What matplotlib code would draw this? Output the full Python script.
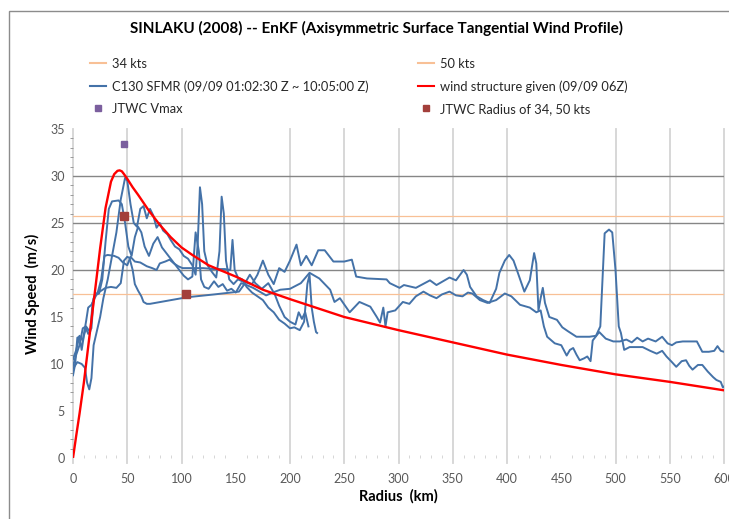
import numpy as np
import matplotlib.pyplot as plt
from matplotlib.lines import Line2D
from matplotlib.patches import Rectangle

plt.rcParams['font.family'] = ['Lato', 'DejaVu Sans']

# wind structure given (09/09 06Z)
wind_r = [0, 3, 6, 10, 15, 20, 25, 30, 35, 38, 41, 43, 45, 47, 50, 55, 60, 70, 80, 90, 100, 110,
          125, 150, 175, 200, 250, 300, 350, 400, 450, 500, 550, 600]
wind_v = [0, 2.4, 4.7, 8.0, 12.8, 17.5, 22.3, 26.6, 29.4, 30.2, 30.55, 30.6, 30.5, 30.2, 29.7, 28.8, 28, 26.3,
          24.8, 23.5, 22.4, 21.6, 20.5, 19.3, 17.9, 16.9, 15.0, 13.6, 12.3, 11.0, 9.9, 8.9, 8.1, 7.2]

# C130 SFMR passes (09/09 01:02:30 Z ~ 10:05:00 Z)
leg1_r = [0, 4, 8, 11, 13, 15, 17, 19, 22, 25, 28, 32, 36, 40, 44, 48, 50, 53, 56, 59, 62, 65, 68, 71, 74, 77,
          80, 83, 87, 90, 94, 98, 102, 106, 110, 113, 115, 117, 119, 121, 124, 128, 132, 135, 137, 139, 141,
          144, 148, 152, 158, 165, 170, 175, 180, 185, 190, 195, 200, 206, 210, 215, 220, 226, 232, 240, 250,
          257, 261, 271, 289, 292, 301, 305, 316, 329, 335, 341, 347, 353, 360, 363, 366, 372, 378, 384, 390,
          393, 398, 402, 406, 410, 416, 421, 425, 427, 429, 431, 433, 435, 439, 446, 451, 456, 464, 476, 482,
          486, 488, 490, 494, 497, 500, 503, 505, 508, 513, 519, 525, 532, 538, 543, 547, 552, 556, 561, 565,
          568, 571, 576, 580, 585, 590, 593, 597, 599, 600]
leg1_v = [9.5, 10.2, 10, 9.6, 8, 7.3, 8.5, 12, 13.5, 15, 17, 19, 21.5, 24, 27.5, 29.8, 29.5, 27, 25, 24.6,
          26.5, 26.8, 25.5, 26.5, 25.8, 24.5, 25, 24.2, 23.8, 23.2, 22.5, 22.2, 21.5, 21.2, 20.5, 19.5, 23,
          28.8, 27, 22, 20.5, 19.8, 19.2, 22, 27.8, 26, 21, 19, 18.5, 19, 18.7, 18.5, 19.5, 21, 19.5, 18.5,
          20.2, 19.8, 21, 22.7, 20.5, 21.5, 20.5, 22.1, 22.1, 20.9, 20.9, 21.1, 19.3, 19.1, 19.0, 18.6, 18.1,
          18.4, 18.1, 18.9, 18.4, 18.8, 19.2, 18.9, 20.0, 19.5, 18.2, 17.2, 16.8, 16.5, 18, 19.7, 21, 21.6,
          21, 19.7, 17.7, 18.9, 21.8, 20.7, 15.7, 17, 18.1, 16.5, 15.0, 14.7, 13.9, 13.5, 12.9, 12.9, 13.0,
          14, 19, 23.9, 24.3, 24, 20, 14, 13.3, 11.5, 11.8, 11.8, 11.8, 11.4, 11.1, 11.4, 10.8, 10.2, 9.7,
          10.3, 10.4, 9.8, 9.4, 9.9, 9.9, 9.2, 8.6, 8.3, 8.1, 7.5, 7.6]

leg2_r = [0, 2, 4, 6, 8, 10, 12, 14, 16, 18, 20, 24, 27, 30, 33, 36, 42, 45, 48, 51, 54, 57, 60, 63, 66, 70,
          74, 78, 82, 86, 90, 94, 98, 102, 106, 110, 113, 116, 118, 121, 125, 130, 134, 138, 142, 146, 150,
          155, 160, 166, 172, 178, 184, 191, 200, 210, 218, 227, 237, 241, 246, 255, 264, 274, 280, 283, 286,
          288, 290, 297, 304, 310, 316, 323, 329, 335, 340, 347, 353, 359, 364, 368, 375, 382, 390, 398, 404,
          412, 421, 427, 431, 434, 437, 444, 450, 455, 458, 461, 464, 467, 471, 474, 477, 479, 485, 491, 498,
          504, 510, 515, 520, 525, 530, 537, 543, 548, 552, 556, 562, 570, 575, 580, 586, 591, 594, 597, 600]
leg2_v = [8.8, 10, 12.8, 12.9, 11.5, 13.0, 13.8, 13.2, 13.5, 16.5, 17.3, 17.5, 19, 23, 26.5, 27.3, 27.4,
          27.0, 25, 22.5, 21.5, 23.5, 24.6, 24, 22.5, 21.5, 22.8, 23.5, 22.4, 21.8, 21.2, 20.6, 20.0, 19.4,
          19.0, 19.3, 24.0, 22.0, 19.0, 18.2, 18.0, 18.8, 18.2, 18.5, 17.8, 18.0, 17.6, 18.6, 18.4, 18.1,
          17.7, 17.3, 17.6, 17.9, 18.0, 18.6, 19.7, 19.1, 17.9, 16.6, 17.0, 15.5, 16.6, 16.1, 15.0, 14.4,
          16.0, 14.0, 15.5, 15.7, 16.6, 16.4, 17.2, 17.7, 17.3, 17.0, 17.4, 17.7, 17.3, 17.2, 17.6, 17.5,
          16.8, 16.5, 16.8, 17.5, 17.2, 16.3, 16.0, 15.5, 15.7, 14.0, 12.9, 12.2, 12.0, 10.9, 11.5, 11.7,
          11.0, 10.4, 10.6, 10.8, 10.3, 12.5, 13.4, 12.7, 12.4, 12.4, 12.6, 12.3, 12.8, 12.4, 12.7, 12.4,
          12.9, 12.2, 12.0, 12.3, 12.4, 12.4, 12.4, 11.3, 11.3, 11.4, 11.9, 11.4, 11.3]

leg3_r = [0, 3, 6, 9, 12, 14, 17, 20, 23, 26, 29, 32, 38, 42, 46, 50, 53, 57, 62, 68, 73, 77, 80, 85, 89,
          93, 97, 101, 110, 120, 130, 140, 145, 147, 149, 152, 156, 160, 165, 170, 175, 180, 185, 190, 195,
          200, 204, 209, 213, 216, 218, 220, 222, 224, 225]
leg3_v = [10.5, 11.5, 13, 12.5, 14.5, 16, 16.3, 17, 17.7, 19, 21.5, 21.6, 21.5, 21.3, 20.8, 20.5, 21.4, 20.9,
          20.8, 20.4, 20.2, 20.0, 20.7, 20.9, 21.1, 20.7, 20.4, 20.2, 20.2, 20.2, 20.1, 20.1, 20.0, 23.2,
          20.0, 19.2, 19.0, 18.2, 17.6, 17.2, 16.8, 16.0, 15.5, 14.7, 14.3, 13.8, 13.9, 13.6, 14.5, 18.5,
          19.5, 16, 14.5, 13.4, 13.3]

leg4_r = [0, 3, 6, 9, 12, 15, 17, 19, 22, 26, 30, 35, 40, 44, 47, 50, 52, 55, 57, 60, 63, 65, 68, 71, 105,
          130, 153, 158, 163, 168, 174, 180, 186, 190, 195, 200, 205, 208, 211, 214, 217]
leg4_v = [9.8, 11, 12, 13.8, 14, 13.5, 13.8, 17, 17.5, 17.8, 18.1, 18.2, 18.1, 18.6, 21, 21.4, 21.3, 20,
          18.5, 17.8, 17.2, 16.6, 16.4, 16.4, 17.1, 17.4, 17.7, 18.5, 19.5, 18.6, 18.0, 18.6, 17.4, 16.2,
          15.0, 14.5, 14.2, 15.5, 14.8, 15.5, 14.0]

# JTWC
vmax_r, vmax_v = [47], [33.4]
radii_r, radii_v = [47, 104], [25.7, 17.5]
kts34, kts50 = 17.5, 25.7

xticks = [0, 50, 100, 150, 200, 250, 300, 350, 400, 450, 500, 550, 600]
vgrid = [0, 50, 100, 200, 250, 300, 350, 400, 500, 550, 600]
hgrid = [20, 25, 30]

blue = '#4472a8'
red = '#ff0000'
orange = '#f8c096'
purple = '#7b5f9e'
darkred = '#a33f3b'
grid_gray = '#d4d4d4'

fig = plt.figure(figsize=(7.29, 5.19), dpi=100)
fig.patches.append(Rectangle((9 / 729, -0.1), 2, 1.1 - 11 / 519, transform=fig.transFigure,
                             fill=False, edgecolor='#8c8c8c', linewidth=1.0))
ax = fig.add_axes([73 / 729, 1 - 458 / 519, (724 - 73) / 729, (458 - 129) / 519])

for x in vgrid:
    ax.axvline(x, ymin=-0.016, ymax=1, color=grid_gray, lw=1.3, clip_on=False, zorder=0)
for y in hgrid:
    ax.axhline(y, color='#868686', lw=1.0, zorder=0)
ax.axhline(kts34, color=orange, lw=0.9, zorder=1)
ax.axhline(kts50, color=orange, lw=0.9, zorder=1)

for lr, lv in [(leg1_r, leg1_v), (leg2_r, leg2_v), (leg3_r, leg3_v), (leg4_r, leg4_v)]:
    ax.plot(lr, lv, color=blue, lw=1.4, zorder=2)
ax.plot(wind_r, wind_v, color=red, lw=1.7, zorder=3)
ax.plot(vmax_r, vmax_v, 's', color=purple, ms=5, zorder=4)
ax.plot(radii_r, radii_v, 's', color=darkred, ms=5.5, zorder=4)

ax.set_xlim(0, 600)
ax.set_ylim(0, 35)
for s in ax.spines.values():
    s.set_visible(False)
ax.set_xticks(xticks)
ax.set_yticks(np.arange(0, 36, 5))
ax.set_xticks(np.arange(0, 601, 10), minor=True)
ax.set_yticks(np.arange(0, 36, 1), minor=True)
ax.tick_params(axis='x', which='major', length=0, pad=11, labelsize=9, labelcolor='#595959')
ax.tick_params(axis='x', which='minor', length=2.5, direction='in', color='#d0d0d0')
ax.tick_params(axis='y', which='major', length=0, pad=6, labelsize=9, labelcolor='#595959')
ax.tick_params(axis='y', which='minor', length=2.5, direction='out', color='#8c8c8c', left=True)
ax.set_xlabel('Radius  (km)', fontsize=10.5, fontweight='bold', labelpad=3)
ax.set_ylabel('Wind Speed  (m/s)', fontsize=10.5, fontweight='bold', labelpad=7)

fig.text(377 / 729, 1 - 28 / 519, 'SINLAKU (2008) -- EnKF (Axisymmetric Surface Tangential Wind Profile)',
         ha='center', va='center', fontsize=11, fontweight='bold')

col1 = [Line2D([], [], color=orange, lw=1.5),
        Line2D([], [], color=blue, lw=1.5),
        Line2D([], [], ls='none', marker='s', color=purple, ms=5)]
col1_labels = ['34 kts', 'C130 SFMR (09/09 01:02:30 Z ~ 10:05:00 Z)', 'JTWC Vmax']
col2 = [Line2D([], [], color=orange, lw=1.5),
        Line2D([], [], color=red, lw=1.5),
        Line2D([], [], ls='none', marker='s', color=darkred, ms=5)]
col2_labels = ['50 kts', 'wind structure given (09/09 06Z)', 'JTWC Radius of 34, 50 kts']
for handles, labels, x0 in [(col1, col1_labels, 90), (col2, col2_labels, 418)]:
    fig.legend(handles, labels, loc='upper left', bbox_to_anchor=(x0 / 729, 1 - 58 / 519),
               frameon=False, fontsize=9.3, borderpad=0, borderaxespad=0, handlelength=1.25,
               handletextpad=0.45, labelspacing=0.78, labelcolor='#262626')

fig.savefig('out.png', dpi=100)
